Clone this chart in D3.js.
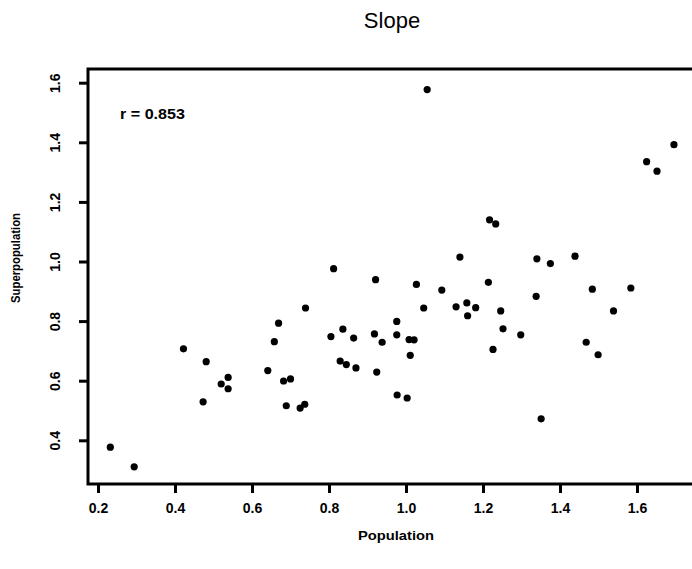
<!DOCTYPE html>
<html>
<head>
<meta charset="utf-8">
<script src="https://cdn.jsdelivr.net/npm/d3@7"></script>
<style>
  html, body { margin: 0; padding: 0; background: #fff; }
  svg { display: block; font-family: "Liberation Sans", Arial, Helvetica, sans-serif; }
  .tick text { font-weight: bold; }
</style>
</head>
<body>
<script>
const width = 692;
const height = 569;

const title = "Slope";
const corrLabel = "r = 0.853";
const xLabel = "Population";
const yLabel = "Superpopulation";

const xTicks = [0.2, 0.4, 0.6, 0.8, 1.0, 1.2, 1.4, 1.6];
const yTicks = [0.4, 0.6, 0.8, 1.0, 1.2, 1.4, 1.6];

// population values (x)
const population = [
  1.055, 1.696, 1.625, 1.652, 1.217, 1.233, 1.140, 1.340, 1.439, 0.812,
  0.921, 0.739, 0.669, 0.976, 0.658, 0.805, 0.836, 0.864, 0.918, 0.938,
  0.976, 0.422, 0.481, 0.641, 0.829, 0.845, 0.870, 0.924, 0.538, 0.520,
  0.538, 0.682, 0.700, 0.473, 0.689, 0.725, 0.737, 0.977, 0.232, 0.294,
  1.375, 1.027, 1.093, 1.214, 1.484, 1.584, 1.046, 1.130, 1.158, 1.181,
  1.160, 1.246, 1.338, 1.539, 1.008, 1.021, 1.011, 1.252, 1.298, 1.226,
  1.468, 1.499, 1.003, 1.351
];

// superpopulation values (y), same order
const superpopulation = [
  1.577, 1.392, 1.335, 1.303, 1.140, 1.126, 1.015, 1.009, 1.018, 0.976,
  0.939, 0.844, 0.793, 0.799, 0.731, 0.748, 0.773, 0.743, 0.757, 0.729,
  0.754, 0.707, 0.664, 0.634, 0.666, 0.654, 0.643, 0.629, 0.611, 0.589,
  0.573, 0.599, 0.606, 0.529, 0.516, 0.508, 0.521, 0.552, 0.377, 0.311,
  0.993, 0.923, 0.904, 0.930, 0.907, 0.911, 0.844, 0.848, 0.861, 0.845,
  0.818, 0.834, 0.883, 0.834, 0.738, 0.737, 0.685, 0.774, 0.754, 0.705,
  0.729, 0.687, 0.542, 0.472
];

const box = { left: 88, top: 69, right: 700, bottom: 484 };

function main() {
  const svg = d3.select("body")
    .append("svg")
    .attr("width", width)
    .attr("height", height);

  const x = d3.scaleLinear()
    .domain([0.2, 1.6])
    .range([98, 637]);

  const y = d3.scaleLinear()
    .domain([0.4, 1.6])
    .range([440.3, 82.7]);

  // title
  svg.append("text")
    .attr("x", 392)
    .attr("y", 28)
    .attr("text-anchor", "middle")
    .attr("font-size", 22)
    .text(title);

  // x axis
  const xAxis = svg.append("g")
    .attr("transform", `translate(0, ${box.bottom})`)
    .call(d3.axisBottom(x)
      .tickValues(xTicks)
      .tickFormat(d3.format(".1f"))
      .tickSize(9)
      .tickPadding(10));
  xAxis.select(".domain").remove();
  xAxis.selectAll(".tick line").attr("stroke-width", 3);
  xAxis.selectAll(".tick text").attr("font-size", 14);

  // y axis, labels turned sideways
  const yAxis = svg.append("g")
    .attr("transform", `translate(${box.left}, 0)`)
    .call(d3.axisLeft(y)
      .tickValues(yTicks)
      .tickFormat(d3.format(".1f"))
      .tickSize(9));
  yAxis.select(".domain").remove();
  yAxis.selectAll(".tick line").attr("stroke-width", 3);
  yAxis.selectAll(".tick text")
    .attr("x", null)
    .attr("dy", "0.35em")
    .attr("text-anchor", "middle")
    .attr("font-size", 14)
    .attr("transform", "translate(-33, 0) rotate(-90)");

  // plot frame (right side runs off the page)
  svg.append("path")
    .attr("d", `M${box.right},${box.top}H${box.left}V${box.bottom}H${box.right}`)
    .attr("fill", "none")
    .attr("stroke", "#000")
    .attr("stroke-width", 3);

  // points
  svg.append("g")
    .selectAll("circle")
    .data(population.map((p, i) => ({ p, s: superpopulation[i] })))
    .join("circle")
    .attr("cx", d => x(d.p))
    .attr("cy", d => y(d.s))
    .attr("r", 3.6)
    .attr("fill", "#000");

  // correlation note
  svg.append("text")
    .attr("x", 120)
    .attr("y", 119)
    .attr("font-size", 14)
    .attr("font-weight", "bold")
    .attr("textLength", 65)
    .attr("lengthAdjust", "spacingAndGlyphs")
    .text(corrLabel);

  // axis titles
  svg.append("text")
    .attr("x", 396)
    .attr("y", 540)
    .attr("text-anchor", "middle")
    .attr("font-size", 13)
    .attr("font-weight", "bold")
    .attr("textLength", 76)
    .attr("lengthAdjust", "spacingAndGlyphs")
    .text(xLabel);

  svg.append("text")
    .attr("transform", "translate(20, 258) rotate(-90)")
    .attr("text-anchor", "middle")
    .attr("font-size", 13)
    .attr("font-weight", "bold")
    .attr("textLength", 90)
    .attr("lengthAdjust", "spacingAndGlyphs")
    .text(yLabel);
}

main();
</script>
</body>
</html>
